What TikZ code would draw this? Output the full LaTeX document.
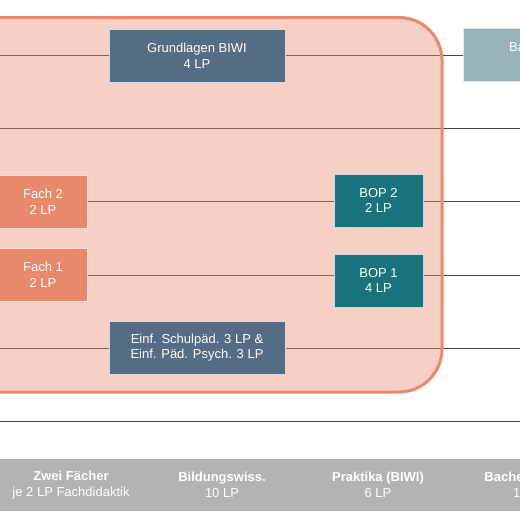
\documentclass[tikz,border=0pt]{standalone}
\usepackage{fontspec}
\setmainfont{Liberation Sans}
\definecolor{lachs}{HTML}{E8896C}
\definecolor{biwi}{HTML}{546C84}
\definecolor{bop}{HTML}{18737D}
\definecolor{bach}{HTML}{97B3B9}
\definecolor{balken}{HTML}{B3B3B3}
\definecolor{linie}{HTML}{474747}
\tikzset{
  modul/.style={draw=white!75!#1, line width=0.6pt, fill=#1, text=white,
    align=center, inner sep=0pt, minimum height=53pt,
    font=\fontsize{13}{15.6}\selectfont},
  legende/.style={text=white, align=center, inner sep=0pt,
    font=\fontsize{13}{15.6}\selectfont}
}
\begin{document}
\begin{tikzpicture}[x=1pt,y=-1pt]
   \useasboundingbox (0,0) rectangle (520,520);
   \clip (0,0) rectangle (520,520);
   % Semesterlinien
   \foreach \y/\n in {55/a,128/b,201/c,275/d,348/e,421/f}{
     \coordinate (links\n) at (0,\y);
     \coordinate (rechts\n) at (520,\y);
     \draw[color=linie, line width=0.8pt] (links\n) -- (rechts\n);
   }
   % Rahmen
   \draw[draw=lachs, line width=3pt, fill=lachs, fill opacity=0.4,
     rounded corners=43pt] (-60,17.5) rectangle (442,392);
   % Module
   \node[modul=biwi, minimum width=176pt] (grundlagen) at (197,55.5) {Grundlagen BIWI\\4 LP};
   \node[modul=bach, minimum width=176pt] (bachelor) at (551,55) {Bachelorarbeit\\10 LP};
   \node[modul=lachs, minimum width=89pt] (fachzwei) at (43,202) {Fach 2\\2 LP};
   \node[modul=lachs, minimum width=89pt] (facheins) at (43,275) {Fach 1\\2 LP};
   \node[modul=bop, minimum width=89pt] (bopzwei) at (378.5,200.5) {BOP 2\\2 LP};
   \node[modul=bop, minimum width=89pt] (bopeins) at (378.5,280.5) {BOP 1\\4 LP};
   \node[modul=biwi, minimum width=176pt] (einf) at (197,347.5) {Einf. Schulpäd. 3 LP \&\\Einf. Päd. Psych. 3 LP};
   % Legende
   \fill[color=balken] (0,459) rectangle (520,511);
   \foreach \x/\kopf/\lp [count=\i] in {71/Zwei Fächer/je 2 LP Fachdidaktik,
       222/Bildungswiss./10 LP, 378/Praktika (BIWI)/6 LP, 530/Bachelorarbeit/10 LP}
     \node[legende] (legende\i) at (\x,485) {\textbf{\kopf}\\\lp};
\end{tikzpicture}
\end{document}
